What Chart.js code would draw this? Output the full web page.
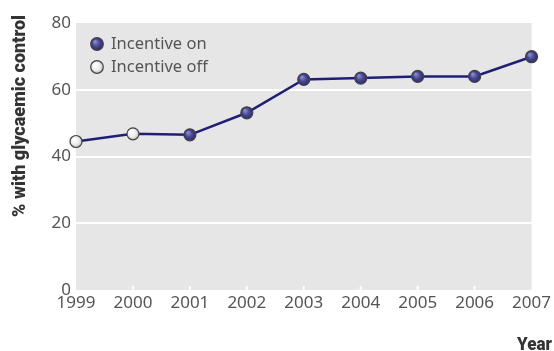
<!DOCTYPE html>
<html>
<head>
<meta charset="utf-8">
<script src="https://cdn.jsdelivr.net/npm/chart.js@4/dist/chart.umd.min.js"></script>
<style>
  html, body { margin: 0; padding: 0; background: #fff; }
  #wrap { width: 554px; height: 351px; }
</style>
</head>
<body>
<div id="wrap"><canvas id="chart"></canvas></div>
<script>
const years = ['1999', '2000', '2001', '2002', '2003', '2004', '2005', '2006', '2007']
const glycaemic = [44.5, 46.8, 46.5, 53.1, 63.1, 63.5, 64.0, 64.0, 69.9]
const incentive = [false, false, true, true, true, true, true, true, true]
const yTicks = [0, 20, 40, 60, 80]
const legendLabels = ['Incentive on', 'Incentive off']
const yTitle = '% with glycaemic control'
const xTitle = 'Year'

const FONT = '"Noto Sans"'
const TITLE_FONT = 'Roboto'
const TEXT = '#555'

const ballFill = (ctx, x, y, r, on) => {
    const g = ctx.createRadialGradient(x - r * 0.35, y - r * 0.4, r * 0.1, x, y, r)
    if (on) {
        g.addColorStop(0, '#8c8cc8')
        g.addColorStop(0.5, '#4a4a96')
        g.addColorStop(1, '#2a2a6e')
    } else {
        g.addColorStop(0, '#ffffff')
        g.addColorStop(0.6, '#eeeeee')
        g.addColorStop(1, '#bdbdbd')
    }
    return g
}

const pointColor = (c) => {
    const chart = c.chart
    if (!chart.chartArea || c.type !== 'data') return '#3a3a8a'
    const x = chart.scales.x.getPixelForValue(c.dataIndex)
    const y = chart.scales.y.getPixelForValue(glycaemic[c.dataIndex])
    return ballFill(chart.ctx, x, y, 6, incentive[c.dataIndex])
}

// bold condensed look: squeeze the text to the width it has in the figure
const narrowText = (ctx, text, width) => {
    const w = ctx.measureText(text).width
    ctx.scale(width / w, 1)
    ctx.fillText(text, 0, 0)
}

const decor = {
    id: 'decor',
    beforeDraw(chart) {
        const { ctx, chartArea: a } = chart
        ctx.save()
        ctx.fillStyle = '#e6e6e6'
        ctx.fillRect(a.left, a.top, a.right - a.left, a.bottom - a.top)
        ctx.restore()
    },
    beforeDatasetsDraw(chart) {
        const { ctx, chartArea: a, scales } = chart
        ctx.save()
        ctx.strokeStyle = '#ffffff'
        ctx.lineWidth = 2
        years.forEach((yr, i) => {
            if (i === 0 || i === years.length - 1) return
            const x = scales.x.getPixelForValue(i)
            ctx.beginPath()
            ctx.moveTo(x, a.bottom)
            ctx.lineTo(x, a.bottom - 4)
            ctx.stroke()
        })
        ctx.restore()
    },
    afterDraw(chart) {
        const { ctx, chartArea: a } = chart
        ctx.save()
        // legend
        ctx.font = `16.5px ${FONT}`
        ctx.textBaseline = 'middle'
        legendLabels.forEach((label, i) => {
            const cx = a.left + 21
            const cy = a.top + 21 + i * 23
            ctx.beginPath()
            ctx.arc(cx, cy, 6.3, 0, Math.PI * 2)
            ctx.fillStyle = ballFill(ctx, cx, cy, 6.3, i === 0)
            ctx.fill()
            ctx.lineWidth = 1.2
            ctx.strokeStyle = '#444'
            ctx.stroke()
            ctx.fillStyle = TEXT
            ctx.textAlign = 'left'
            ctx.fillText(label, cx + 14, cy)
        })
        // axis titles
        ctx.fillStyle = '#333'
        ctx.font = `900 19px ${TITLE_FONT}`
        ctx.textBaseline = 'alphabetic'
        ctx.textAlign = 'left'
        ctx.translate(25, 217)
        ctx.rotate(-Math.PI / 2)
        narrowText(ctx, yTitle, 202)
        ctx.setTransform(1, 0, 0, 1, 0, 0)
        ctx.translate(517, 350)
        narrowText(ctx, xTitle, 35)
        ctx.restore()
    }
}

new Chart(document.getElementById('chart'), {
    type: 'line',
    data: {
        labels: years,
        datasets: [{
            data: glycaemic,
            borderColor: '#1f1f78',
            borderWidth: 2.5,
            tension: 0,
            clip: false,
            pointRadius: 6,
            pointHoverRadius: 6,
            pointBorderColor: '#444',
            pointBorderWidth: 1.2,
            pointBackgroundColor: pointColor
        }]
    },
    options: {
        responsive: true,
        maintainAspectRatio: false,
        animation: false,
        layout: { padding: { top: 23, right: 21, left: 0, bottom: 0 } },
        plugins: { legend: { display: false }, tooltip: { enabled: false } },
        scales: {
            x: {
                offset: false,
                grid: { display: false, drawTicks: false },
                border: { display: false },
                ticks: { color: TEXT, font: { family: FONT, size: 17 }, padding: 3, maxRotation: 0, autoSkip: false },
                afterFit: (s) => { s.height = 61 }
            },
            y: {
                min: 0,
                max: 80,
                afterBuildTicks: (s) => { s.ticks = yTicks.map(v => ({ value: v })) },
                grid: {
                    drawTicks: false,
                    lineWidth: 2,
                    color: (c) => (c.tick && c.tick.value > 0 && c.tick.value < 80) ? '#ffffff' : 'rgba(0,0,0,0)'
                },
                border: { display: false },
                ticks: { color: TEXT, font: { family: FONT, size: 17 }, padding: 5 },
                afterFit: (s) => { s.width = 76 }
            }
        }
    },
    plugins: [decor]
})
</script>
</body>
</html>
